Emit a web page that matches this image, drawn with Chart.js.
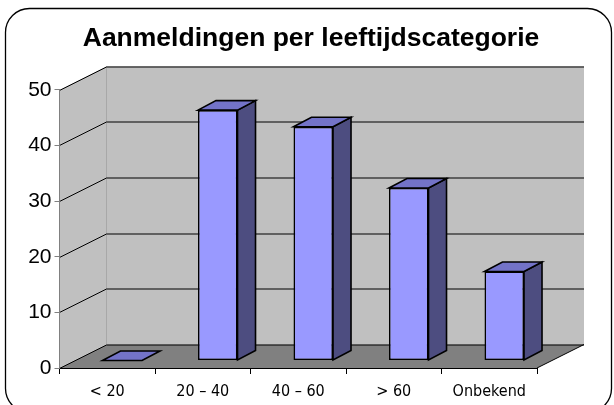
<!DOCTYPE html>
<html>
<head>
<meta charset="utf-8">
<script src="https://cdn.jsdelivr.net/npm/chart.js@4"></script>
<style>
  html, body { margin: 0; padding: 0; background: #fff; }
</style>
</head>
<body>
<canvas id="chart" width="614" height="405"></canvas>
<script>
// ====== DATA ======
const categories = ['< 20', '20 – 40', '40 – 60', '> 60', 'Onbekend'];
const aanmeldingen = [0, 45, 42, 31, 16];
const yTicks = [0, 10, 20, 30, 40, 50];

// ====== 3D LOOK ======
const WALL_DX = 47, WALL_DY = -23.5;     // depth of the walls/floor
const SHIFT_X = 15, SHIFT_Y = -7.5;      // bars stand a bit back on the floor
const BAR_DX = 18,  BAR_DY = -9.5;       // bar depth

const FRONT = '#9999FF';
const TOP   = '#7373C8';
const SIDE  = '#4D4D80';

function poly(ctx, pts, fill, stroke, lw) {
  ctx.beginPath();
  ctx.moveTo(pts[0][0], pts[0][1]);
  for (let i = 1; i < pts.length; i++) ctx.lineTo(pts[i][0], pts[i][1]);
  ctx.closePath();
  if (fill) { ctx.fillStyle = fill; ctx.fill(); }
  if (stroke) { ctx.strokeStyle = stroke; ctx.lineWidth = lw || 1; ctx.stroke(); }
}

const depth3d = {
  id: 'depth3d',
  beforeDraw(chart) {
    const { ctx, chartArea: a, scales: { y } } = chart;
    const x0 = a.left, x1 = a.right, yT = a.top, yB = a.bottom;
    ctx.save();

    // frame
    ctx.beginPath();
    ctx.roundRect(5.5, 8.5, 606, 404, 24);
    ctx.strokeStyle = '#000';
    ctx.lineWidth = 1.3;
    ctx.stroke();

    // back wall
    poly(ctx, [[x0 + WALL_DX, yT + WALL_DY], [x1 + WALL_DX, yT + WALL_DY],
               [x1 + WALL_DX, yB + WALL_DY], [x0 + WALL_DX, yB + WALL_DY]], '#C0C0C0');
    // side wall
    poly(ctx, [[x0, yT], [x0 + WALL_DX, yT + WALL_DY],
               [x0 + WALL_DX, yB + WALL_DY], [x0, yB]], '#C0C0C0');
    ctx.strokeStyle = '#a8a8a8';
    ctx.lineWidth = 1;
    ctx.beginPath();
    ctx.moveTo(x0 + WALL_DX, yT + WALL_DY);
    ctx.lineTo(x0 + WALL_DX, yB + WALL_DY);
    ctx.stroke();
    // floor
    poly(ctx, [[x0, yB], [x0 + WALL_DX, yB + WALL_DY],
               [x1 + WALL_DX, yB + WALL_DY], [x1, yB]], '#808080');

    // gridlines round the walls
    ctx.strokeStyle = '#000';
    ctx.lineWidth = 1;
    yTicks.forEach(v => {
      const py = Math.round(y.getPixelForValue(v)) + 0.5;
      ctx.beginPath();
      ctx.moveTo(x0, py);
      ctx.lineTo(x0 + WALL_DX, py + WALL_DY);
      ctx.lineTo(x1 + WALL_DX, py + WALL_DY);
      ctx.stroke();
    });
    // floor right edge
    ctx.beginPath();
    ctx.moveTo(x1, yB);
    ctx.lineTo(x1 + WALL_DX, yB + WALL_DY);
    ctx.stroke();
    ctx.restore();
  },
  beforeDatasetDraw(chart) {
    chart.ctx.save();
    chart.ctx.translate(SHIFT_X, SHIFT_Y);
  },
  afterDatasetDraw(chart, args) {
    const ctx = chart.ctx;
    args.meta.data.forEach(bar => {
      const l = bar.x - bar.width / 2, r = bar.x + bar.width / 2;
      const t = bar.y, b = bar.base;
      // side
      if (b - t > 0.5) {
        poly(ctx, [[r, t], [r + BAR_DX, t + BAR_DY], [r + BAR_DX, b + BAR_DY], [r, b]], SIDE, '#000', 1.6);
      }
      // top
      poly(ctx, [[l, t], [l + BAR_DX, t + BAR_DY], [r + BAR_DX, t + BAR_DY], [r, t]], TOP, '#000', 1.6);
    });
    ctx.restore();
  }
};

// ====== CHART ======
new Chart(document.getElementById('chart').getContext('2d'), {
  type: 'bar',
  data: {
    labels: categories,
    datasets: [{
      data: aanmeldingen,
      backgroundColor: FRONT,
      borderColor: '#000',
      borderWidth: 1.6,
      borderSkipped: false,
      categoryPercentage: 1,
      barPercentage: 0.414
    }]
  },
  options: {
    responsive: false,
    animation: false,
    layout: { padding: { left: 8, right: 0, top: 0, bottom: 0 } },
    plugins: {
      legend: { display: false },
      tooltip: { enabled: false },
      title: {
        display: true,
        text: 'Aanmeldingen per leeftijdscategorie',
        color: '#000',
        font: { family: 'Arial, "Liberation Sans", sans-serif', size: 26.5, weight: 'bold' },
        padding: { top: 23, bottom: 35 }
      }
    },
    datasets: { bar: { clip: false } },
    scales: {
      x: {
        grid: { drawOnChartArea: false, drawTicks: true, tickLength: 6, color: '#000', offset: true },
        border: { display: true, color: '#000', width: 1 },
        ticks: {
          color: '#000', padding: 8, maxRotation: 0, autoSkip: false,
          font: { family: '"Liberation Sans Narrow", "DejaVu Sans Condensed", Arial, sans-serif', size: 16 }
        },
        afterFit(s) { s.height = 37; }
      },
      y: {
        min: 0, max: 50,
        afterBuildTicks(s) { s.ticks = yTicks.map(v => ({ value: v })); },
        grid: { drawOnChartArea: false, drawTicks: true, tickLength: 5, color: '#808080' },
        border: { display: true, color: '#808080', width: 1 },
        ticks: {
          color: '#000', padding: 3,
          font: { family: 'Arial, "Liberation Sans", sans-serif', size: 21 }
        },
        afterFit(s) { s.width = 51.5; }
      },
      // empty room on the right for the walls' depth
      room: {
        position: 'right',
        grid: { display: false },
        border: { display: false },
        ticks: { display: false },
        afterFit(s) { s.width = 77; }
      }
    }
  },
  plugins: [depth3d]
});
</script>
</body>
</html>
